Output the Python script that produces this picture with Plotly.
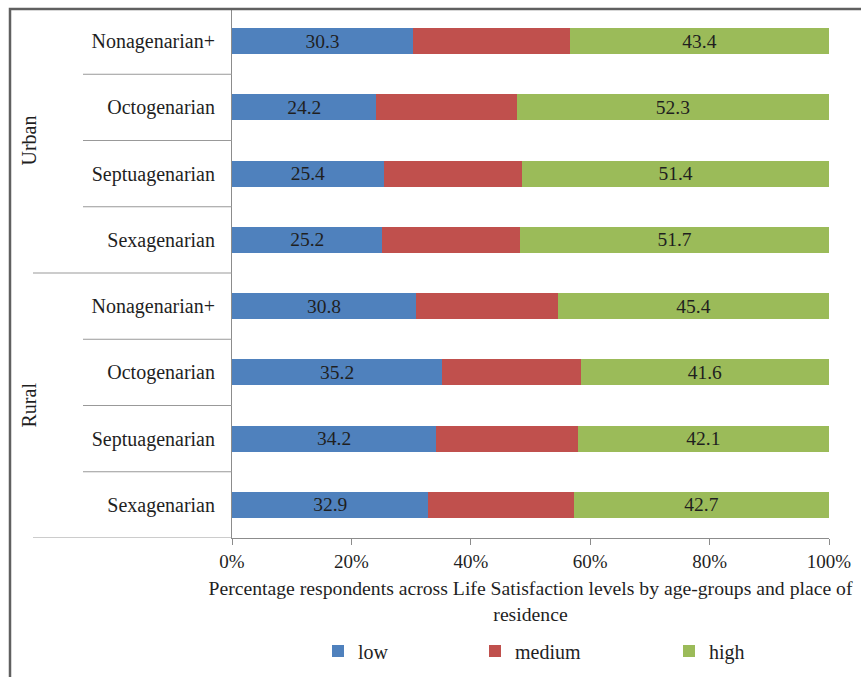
import plotly.graph_objects as go

# Life satisfaction by age group and place of residence (percent of respondents)
places = ["Rural", "Rural", "Rural", "Rural", "Urban", "Urban", "Urban", "Urban"]
age_groups = ["Sexagenarian", "Septuagenarian", "Octogenarian", "Nonagenarian+",
              "Sexagenarian", "Septuagenarian", "Octogenarian", "Nonagenarian+"]
low = [32.9, 34.2, 35.2, 30.8, 25.2, 25.4, 24.2, 30.3]
high = [42.7, 42.1, 41.6, 45.4, 51.7, 51.4, 52.3, 43.4]
medium = [round(100 - l - h, 1) for l, h in zip(low, high)]

series_names = ["low", "medium", "high"]
series_colors = ["#4F81BD", "#C0504D", "#9BBB59"]
x_ticks = [0, 20, 40, 60, 80, 100]
x_title = ("Percentage respondents across Life Satisfaction levels by age-groups and place of"
           "<br>residence")

FONT = "Liberation Serif"
FS = 19
W, H = 861, 677
ML, MR, MT, MB = 232, 32, 8, 138
TXT = "#1f1f1f"

keys = [f"{p}|{a}" for p, a in zip(places, age_groups)]

fig = go.Figure()
values = [low, medium, high]
legends = ["legend", "legend2", "legend3"]
for name, vals, color, lg in zip(series_names, values, series_colors, legends):
    show_text = name != "medium"
    fig.add_trace(go.Bar(
        y=keys, x=vals, name=name, orientation="h",
        marker=dict(color=color, line=dict(width=0)),
        text=[f"{v:.1f}" for v in vals] if show_text else None,
        textposition="inside" if show_text else "none",
        insidetextanchor="middle",
        textangle=0,
        constraintext="none",
        textfont=dict(family=FONT, size=19.5, color=TXT),
        legend=lg,
        hoverinfo="x+name",
    ))

pw = W - ML - MR
ph = H - MT - MB


def px_to_paper_x(px):
    return (px - ML) / pw


def px_to_paper_y(py):
    return (H - MB - py) / ph


shapes = []
# dividers between age groups within a place
n = len(keys)
for i in range(n - 1):
    x0 = px_to_paper_x(33) if places[i] != places[i + 1] else px_to_paper_x(83)
    shapes.append(dict(type="line", xref="paper", yref="y", x0=x0, x1=0,
                       y0=i + 0.5, y1=i + 0.5, line=dict(color="#999999", width=1)))
# bottom divider
shapes.append(dict(type="line", xref="paper", yref="y", x0=px_to_paper_x(33), x1=0,
                   y0=-0.5, y1=-0.5, line=dict(color="#999999", width=1)))
# outer frame
shapes.append(dict(type="rect", xref="paper", yref="paper",
                   x0=px_to_paper_x(10), x1=px_to_paper_x(900),
                   y0=px_to_paper_y(720), y1=px_to_paper_y(9),
                   line=dict(color="#606060", width=2.5), fillcolor="rgba(0,0,0,0)",
                   layer="above"))

annotations = []
for place in ["Rural", "Urban"]:
    idx = [i for i, p in enumerate(places) if p == place]
    yc = (idx[0] + idx[-1]) / 2
    annotations.append(dict(text=place, xref="paper", yref="y",
                            x=px_to_paper_x(28), y=yc, textangle=-90, showarrow=False,
                            font=dict(family=FONT, size=20, color=TXT),
                            xanchor="center", yanchor="middle"))

legend_common = dict(orientation="h", yanchor="middle", xanchor="left",
                     y=px_to_paper_y(651), bgcolor="rgba(0,0,0,0)",
                     font=dict(family=FONT, size=20, color=TXT),
                     itemclick=False, itemdoubleclick=False)

fig.update_layout(
    width=W, height=H,
    margin=dict(l=ML, r=MR, t=MT, b=MB),
    barmode="stack",
    bargap=0.61,
    paper_bgcolor="white",
    plot_bgcolor="white",
    font=dict(family=FONT, size=FS, color=TXT),
    xaxis=dict(range=[0, 100], tickvals=x_ticks, ticktext=[f"{t}%" for t in x_ticks],
               showgrid=False, zeroline=False, showline=True, linecolor="#8c8c8c",
               linewidth=1, ticks="outside", ticklen=6, tickcolor="#8c8c8c",
               tickfont=dict(family=FONT, size=19, color=TXT),
               title=dict(text=x_title, standoff=10,
                          font=dict(family=FONT, size=19.7, color=TXT))),
    yaxis=dict(categoryorder="array", categoryarray=keys, tickvals=keys,
               ticktext=age_groups, range=[-0.5, n - 0.5],
               showgrid=False, zeroline=False, showline=True, linecolor="#8c8c8c",
               linewidth=1, ticks="", ticklabelstandoff=12,
               tickfont=dict(family=FONT, size=20, color=TXT)),
    shapes=shapes,
    annotations=annotations,
    legend=dict(x=px_to_paper_x(318), **legend_common),
    legend2=dict(x=px_to_paper_x(475), **legend_common),
    legend3=dict(x=px_to_paper_x(669), **legend_common),
    showlegend=True,
)

fig.write_html("out.html")
